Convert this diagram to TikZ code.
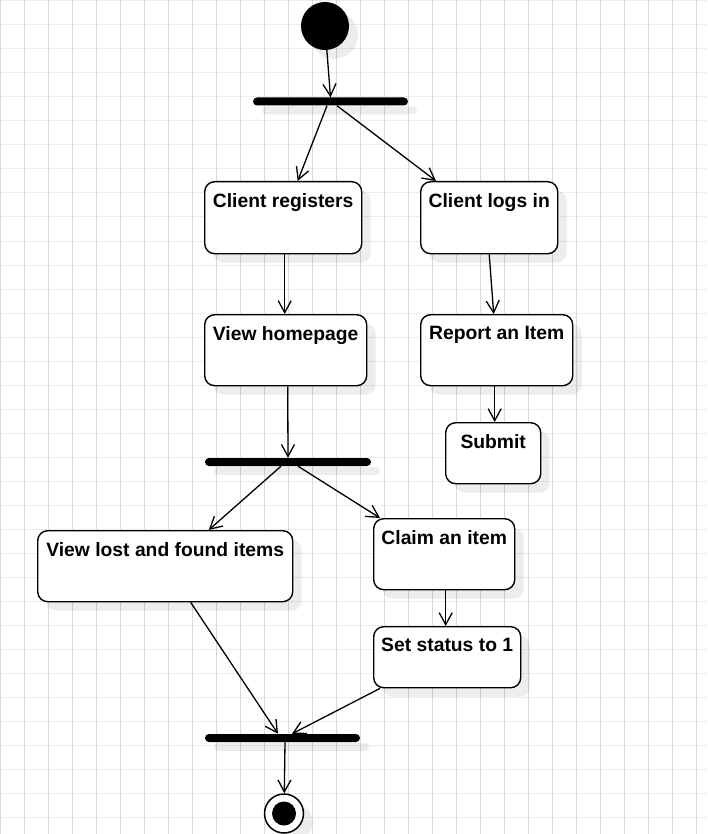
\documentclass[tikz,border=0pt]{standalone}
\usepackage{fontspec}
\setmainfont{Liberation Sans}
\usetikzlibrary{arrows.meta,shadows,calc}
\definecolor{gridv}{HTML}{D9D9D9}
\definecolor{gridh}{HTML}{ECECEC}
\newcommand\acttxt[3]{\parbox[t][#2][t]{#1}{\centering\vspace*{11.5pt}#3\par}}
\begin{document}
\begin{tikzpicture}[x=1pt,y=-1pt,
  shad/.style={drop shadow={shadow xshift=9pt, shadow yshift=-9pt, fill=black, opacity=0.07}},
  act/.style={draw, line width=1.4pt, rounded corners=10pt, fill=white, inner sep=0pt,
    anchor=north west, font=\bfseries\fontsize{19.3}{22}\selectfont, shad},
  bar/.style={fill=black, rounded corners=4pt, inner sep=0pt, minimum height=8pt, shad},
  flow/.style={line width=1.3pt, -{Straight Barb[length=12pt,width=13pt,line width=1.3pt]}},
  initnode/.style={circle, fill=black, minimum size=48pt, inner sep=0pt, shad},
  finalring/.style={circle, draw, line width=1.5pt, fill=white, minimum size=39pt, inner sep=0pt, shad},
  finaldot/.style={circle, fill=black, minimum size=24pt, inner sep=0pt},
]
\useasboundingbox (0,0) rectangle (707,834);
\fill[white] (0,0) rectangle (707,834);
\begin{scope}
\clip (0,0) rectangle (707,834);
\foreach \j in {0,...,35} \draw[gridh, line width=1pt] (0,\j*24+1) -- (707,\j*24+1);
\foreach \i in {0,...,29} \draw[gridv, line width=1pt] (\i*24+0.5,0) -- (\i*24+0.5,834);
\end{scope}

\node[initnode] (init) at (325,26) {};
\node[bar, minimum width=155pt] (fork1) at (330.5,101.5) {};
\node[act] (reg) at (204,181) {\acttxt{157pt}{72pt}{Client registers}};
\node[act] (login) at (420,181) {\acttxt{137pt}{72pt}{Client logs in}};
\node[act] (home) at (204,314) {\acttxt{162pt}{71pt}{View homepage}};
\node[act] (report) at (420,314) {\acttxt{152pt}{71pt}{Report an Item}};
\node[act] (submit) at (445,422) {\acttxt{95pt}{61pt}{Submit}};
\node[bar, minimum width=166pt] (fork2) at (288,462) {};
\node[act] (lost) at (37,530) {\acttxt{255pt}{71pt}{View lost and found items}};
\node[act] (claim) at (373,518) {\acttxt{141pt}{71pt}{Claim an item}};
\node[act] (status) at (373,626) {\acttxt{147pt}{61pt}{Set status to 1}};
\node[bar, minimum width=155pt] (join) at (282.5,738) {};
\node[finalring] (final) at (284,813.5) {};
\node[finaldot] (finaldot) at (final.center) {};

\draw[flow] (init) -- (fork1.north);
\draw[flow] ([xshift=-3.5pt]fork1.south) -- ([xshift=14.5pt]reg.north);
\draw[flow] ([xshift=6.5pt]fork1.south) -- ([xshift=16pt]login.north west);
\draw[flow] ([xshift=1.5pt]reg.south) -- ([xshift=-1pt]home.north);
\draw[flow] (login.south) -- ([xshift=-3pt]report.north);
\draw[flow] ([xshift=-2pt]report.south) -- ([xshift=1.5pt]submit.north);
\draw[flow] ([xshift=2pt]home.south) -- (fork2.north);
\draw[flow] ([xshift=-7pt]fork2.south) -- ([xshift=43.5pt]lost.north);
\draw[flow] ([xshift=10pt]fork2.south) -- ([xshift=7pt]claim.north west);
\draw[flow] ([xshift=1.5pt]claim.south) -- ([xshift=-1.5pt]status.north);
\draw[flow] ([xshift=25.5pt]lost.south) -- ([xshift=-4.5pt]join.north);
\draw[flow] ([xshift=7pt]status.south west) -- ([xshift=9.5pt]join.north);
\draw[flow] ([xshift=2.5pt]join.south) -- (final);
\end{tikzpicture}
\end{document}
